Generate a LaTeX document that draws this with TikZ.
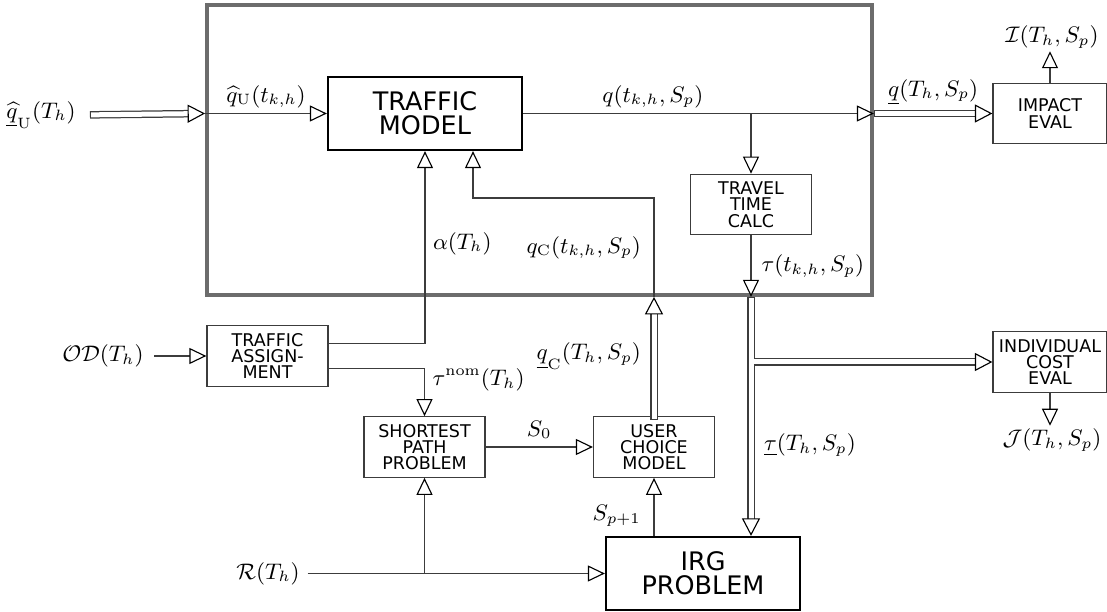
\documentclass[tikz,border=0pt]{standalone}
\usepackage{amsmath}
\usepackage{fontspec}
\newfontfamily\blockfont{DejaVu Sans}
\usetikzlibrary{arrows.meta, positioning, calc}
\definecolor{framegray}{RGB}{108,108,108}
\definecolor{linegray}{RGB}{60,60,60}

\begin{document}
\begin{tikzpicture}[
  x=0.4pt, y=-0.4pt,
  block/.style={draw=linegray, line width=0.5pt, inner sep=0pt, align=center,
                minimum width=48.4pt, minimum height=24.2pt,
                font=\blockfont\fontsize{7}{6.5}\selectfont},
  mainblock/.style={block, draw=black, line width=0.9pt,
                    minimum width=77.6pt, minimum height=29.2pt,
                    font=\blockfont\fontsize{10.2}{9.6}\selectfont},
  simframe/.style={draw=framegray, line width=1.5pt, inner sep=0pt,
                   minimum width=266pt, minimum height=116pt},
  lbl/.style={inner sep=1pt, font=\fontsize{9}{11}\selectfont},
  flow/.style={draw=linegray, line width=0.5pt,
               -{Triangle[color=black, fill=white, length=6.8pt, width=6.4pt, line width=0.45pt]}},
  dbl/.style={draw=linegray, double=white, double distance=2pt, line width=0.5pt, line cap=rect,
              -{Triangle[color=black, fill=white, length=7pt, width=7.2pt, line width=0.45pt]}}
]
  \useasboundingbox (0,0) rectangle (1107,612);

  % simulation frame and blocks
  \node[simframe] (sim) at (539.5,150) {};
  \node[mainblock] (tm) at (425,113.5) {TRAFFIC\\MODEL};
  \node[block] (ttc) at (751,204.5) {TRAVEL\\TIME\\CALC};
  \node[block, minimum width=45.6pt] (ie) at (1050,113.5) {IMPACT\\EVAL};
  \node[block, minimum width=45.6pt] (ice) at (1050,362) {INDIVIDUAL\\COST\\EVAL};
  \node[block] (ta) at (267.5,356) {TRAFFIC\\ASSIGN-\\MENT};
  \node[block] (sp) at (424.5,447) {SHORTEST\\PATH\\PROBLEM};
  \node[block] (uc) at (654,447) {USER\\CHOICE\\MODEL};
  \node[mainblock] (irg) at (703,573.5) {IRG\\PROBLEM};

  % inputs and outputs
  \node[lbl] (qUin) at (41,115) {$\underline{\widehat{q}}_{\mathrm{U}}(T_h)$};
  \node[lbl] (odin) at (103,356) {$\mathcal{OD}(T_h)$};
  \node[lbl] (rin) at (268,573.5) {$\mathcal{R}(T_h)$};
  \node[lbl] (iout) at (1052,37) {$\mathcal{I}(T_h,S_p)$};
  \node[lbl] (jout) at (1052,440) {$\mathcal{J}(T_h,S_p)$};
  \coordinate (qcturn) at (473,198);

  \draw[dbl, shorten <=6pt] (qUin.east) -- (sim.west |- tm.west);
  \draw[flow] (sim.west |- tm.west) -- (tm.west)
    node[lbl, midway, above=1pt] (qUlbl) {$\widehat{q}_{\mathrm{U}}(t_{k,h})$};
  \draw[flow] (tm.east) -- (sim.east |- tm.east)
    node[lbl, pos=0.37, above=1pt] (qlbl) {$q(t_{k,h},S_p)$};
  \draw[flow] (ttc.north |- tm.east) -- (ttc.north);
  \draw[flow] (ttc.south) -- (ttc.south |- sim.south)
    node[lbl, midway, right=3pt] (taulbl) {$\tau(t_{k,h},S_p)$};
  \draw[dbl, shorten <=1.5pt] (sim.east |- tm.east) -- (ie.west)
    node[lbl, midway, above=2pt] (qbarlbl) {$\underline{q}(T_h,S_p)$};
  \draw[flow] (ie.north) -- (ie.north |- iout.south);

  % travel times to cost evaluation and IRG
  \coordinate (tausplit) at (ttc.south |- ice.west);
  \draw[dbl] (tausplit) -- (ice.west);
  \draw[dbl, shorten <=1.5pt] (ttc.south |- sim.south) -- (ttc.south |- irg.north)
    node[lbl, pos=0.62, right=4pt] (taubarlbl) {$\underline{\tau}(T_h,S_p)$};
  \draw[white, line width=2pt] (tausplit) -- ++(3pt,0);
  \draw[flow] (ice.south) -- (ice.south |- jout.north);

  % assignment, shortest path and user choice
  \draw[flow, shorten <=3pt] (odin.east) -- (ta.west);
  \draw[flow] ([yshift=4.9pt]ta.east) -| (tm.south)
    node[lbl, pos=0.76, right=2pt] (alphalbl) {$\alpha(T_h)$};
  \draw[flow] ([yshift=-4.9pt]ta.east) -| (sp.north)
    node[lbl, pos=0.62, right=2pt] (nomlbl) {$\tau^{\mathrm{nom}}(T_h)$};
  \draw[flow] (sp.east) -- (uc.west)
    node[lbl, midway, above=2pt] (s0lbl) {$S_0$};
  \draw[dbl] (uc.north) -- (uc.north |- sim.south)
    node[lbl, midway, left=4pt] (qcbarlbl) {$\underline{q}_{\mathrm{C}}(T_h,S_p)$};
  \draw[flow] (uc.north |- sim.south) |- node[lbl, pos=0.25, left=4pt] (qclbl) {$q_{\mathrm{C}}(t_{k,h},S_p)$}
    (qcturn) -- (qcturn |- tm.south);
  \draw[flow] (irg.north -| uc.south) -- (uc.south)
    node[lbl, pos=0.35, left=4pt] (splbl) {$S_{p+1}$};
  \draw[flow, shorten <=2pt] (rin.east) -- (irg.west);
  \draw[flow] (sp.south |- irg.west) -- (sp.south);
\end{tikzpicture}
\end{document}
